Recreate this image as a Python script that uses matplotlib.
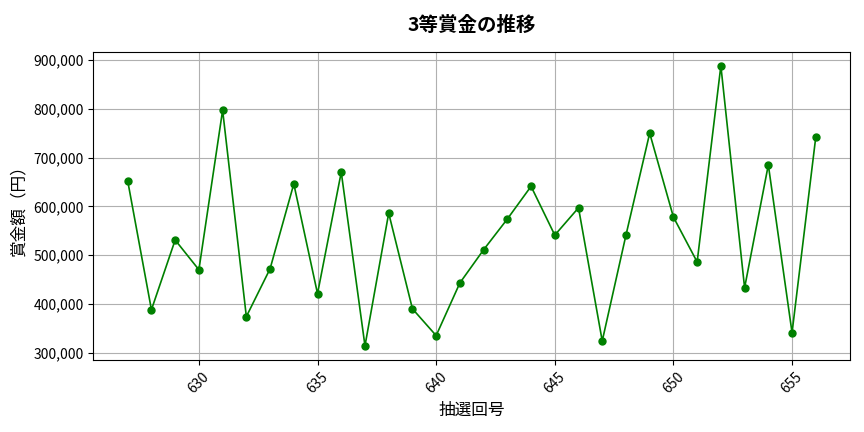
import matplotlib
matplotlib.use("Agg")
import matplotlib.pyplot as plt
from matplotlib.ticker import FuncFormatter

plt.rcParams['font.family'] = ['Noto Sans CJK JP', 'DejaVu Sans']

draws = list(range(627, 657))
prizes = [652000, 388000, 531000, 470000, 797000, 374000, 472000, 646000, 421000, 670000,
          314000, 586000, 390000, 335000, 443000, 511000, 574000, 641000, 541000, 597000,
          324000, 541000, 750000, 578000, 486000, 888000, 433000, 685000, 341000, 742000]

fig, ax = plt.subplots(figsize=(8.64, 4.32), dpi=100)
ax.plot(draws, prizes, marker='o', color='green', linewidth=1.2, markersize=5)

ax.set_title('3等賞金の推移', fontsize=14, fontweight='bold', pad=15)
ax.set_xlabel('抽選回号', fontsize=12, labelpad=4)
ax.set_ylabel('賞金額（円）', fontsize=12, labelpad=4)
ax.yaxis.set_major_formatter(FuncFormatter(lambda v, p: f'{int(v):,}'))
ax.tick_params(axis='x', rotation=45)
ax.grid(True, color='#b0b0b0', linewidth=0.8)

fig.subplots_adjust(left=0.108, right=0.984, top=0.88, bottom=0.167)
fig.savefig('out.png')
